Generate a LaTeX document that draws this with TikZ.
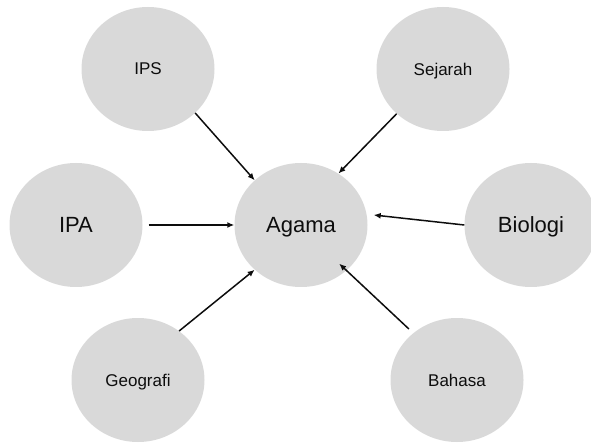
\documentclass[tikz,border=0pt]{standalone}
\usepackage{fontspec}
\setmainfont{Liberation Sans}
\usetikzlibrary{shapes.geometric,arrows.meta}
\definecolor{abu}{HTML}{D9D9D9}

\begin{document}
\begin{tikzpicture}[x=1pt,y=-1pt,>={Latex[length=7pt,width=6pt]},
  mapel/.style={ellipse,fill=abu,minimum width=133pt,minimum height=124pt,inner sep=0pt,text depth=0pt,text=black!95},
  kecil/.style={mapel,font=\fontsize{17}{20}\selectfont},
  besar/.style={mapel,font=\fontsize{22}{26}\selectfont},
  panah/.style={->,line width=1.5pt,black!95}]
\useasboundingbox (0,0) rectangle (591,443);
%% lingkaran
\node[kecil] (ips) at (148,69) {IPS};
\node[kecil] (sejarah) at (443,69) {Sejarah};
\node[besar] (ipa) at (76,225) {IPA};
\node[besar] (agama) at (301,225) {Agama};
\node[besar] (biologi) at (531,225) {Biologi};
\node[kecil] (geografi) at (138,380) {Geografi};
\node[kecil] (bahasa) at (457,380) {Bahasa};
%% panah ke agama
\draw[panah] (ips.-43) -- (agama.136);
\draw[panah] (sejarah.-136) -- (agama.54);
\draw[panah,shorten <=6pt] (ipa.east) -- (agama.west);
\draw[panah] (biologi.west) -- ([xshift=6pt,yshift=10pt]agama.east);
\draw[panah] (geografi.50) -- (agama.-136);
\draw[panah,shorten <=6pt,shorten >=-10pt] (bahasa.133) -- (agama.-45);

\end{tikzpicture}
\end{document}
